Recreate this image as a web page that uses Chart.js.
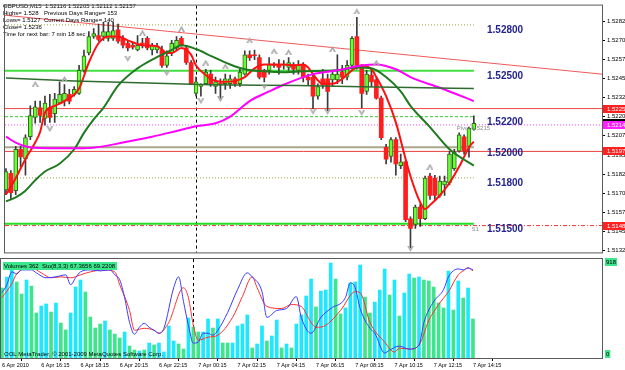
<!DOCTYPE html>
<html>
<head>
<meta charset="utf-8">
<script src="https://cdn.jsdelivr.net/npm/chart.js@4.4.1/dist/chart.umd.min.js"></script>
<style>
  html, body { margin: 0; padding: 0; background: #fff; }
  #wrap { position: relative; width: 625px; height: 370px; overflow: hidden; }
  #main { position: absolute; left: 0; top: 0; }
  #sub { position: absolute; left: 0; top: 258px; }
</style>
</head>
<body>
<div id="wrap">
  <canvas id="main" width="625" height="258"></canvas>
  <canvas id="sub" width="625" height="112"></canvas>
</div>
<script>
// GBPUSD M15, one bar per index, 6 Apr 14:15 .. 7 Apr 14:15
const candleOpen = [
  1.51722, 1.51829, 1.51716, 1.51987, 1.51924, 1.52069, 1.52195, 1.52258, 1.52189, 1.52258,
  1.52220, 1.52289, 1.52302, 1.52346, 1.52346, 1.52352, 1.52503, 1.52617, 1.52724, 1.52730,
  1.52724, 1.52712, 1.52712, 1.52768, 1.52712, 1.52680, 1.52667, 1.52636, 1.52680, 1.52712,
  1.52636, 1.52636, 1.52636, 1.52535, 1.52617, 1.52649, 1.52712, 1.52649, 1.52554, 1.52352,
  1.52397, 1.52415, 1.52478, 1.52397, 1.52415, 1.52415, 1.52415, 1.52447, 1.52415, 1.52478,
  1.52604, 1.52604, 1.52586, 1.52503, 1.52503, 1.52541, 1.52541, 1.52535, 1.52522, 1.52541,
  1.52503, 1.52541, 1.52459, 1.52459, 1.52334, 1.52447, 1.52447, 1.52441, 1.52441, 1.52491,
  1.52459, 1.52535, 1.52724, 1.52535, 1.52365, 1.52472, 1.52441, 1.52321, 1.52000, 1.51941,
  1.52050, 1.51880, 1.51905, 1.51533, 1.51496, 1.51609, 1.51533, 1.51811, 1.51798, 1.51685,
  1.51754, 1.51767, 1.51861, 1.51974, 1.52069, 1.52006, 1.52116
];
const candleHigh = [
  1.51861, 1.51848, 1.52006, 1.52006, 1.52082, 1.52271, 1.52302, 1.52302, 1.52334, 1.52346,
  1.52352, 1.52428, 1.52409, 1.52378, 1.52397, 1.52535, 1.52636, 1.52756, 1.52775, 1.52806,
  1.52819, 1.52819, 1.52819, 1.52806, 1.52730, 1.52693, 1.52680, 1.52730, 1.52712, 1.52724,
  1.52680, 1.52680, 1.52661, 1.52630, 1.52699, 1.52724, 1.52724, 1.52667, 1.52567, 1.52459,
  1.52415, 1.52510, 1.52503, 1.52459, 1.52447, 1.52478, 1.52472, 1.52459, 1.52510, 1.52630,
  1.52630, 1.52636, 1.52604, 1.52510, 1.52586, 1.52554, 1.52573, 1.52567, 1.52586, 1.52554,
  1.52567, 1.52554, 1.52478, 1.52478, 1.52415, 1.52510, 1.52478, 1.52503, 1.52604, 1.52535,
  1.52567, 1.52724, 1.52850, 1.52541, 1.52503, 1.52510, 1.52459, 1.52334, 1.52019, 1.52063,
  1.52063, 1.51955, 1.51910, 1.51546, 1.51622, 1.51628, 1.51811, 1.51829, 1.51817, 1.51811,
  1.51811, 1.51974, 1.51987, 1.52094, 1.52082, 1.52132, 1.52205
];
const candleLow = [
  1.51691, 1.51659, 1.51691, 1.51874, 1.51817, 1.52050, 1.52157, 1.52163, 1.52145, 1.52163,
  1.52163, 1.52283, 1.52271, 1.52283, 1.52334, 1.52346, 1.52491, 1.52604, 1.52712, 1.52693,
  1.52699, 1.52693, 1.52699, 1.52680, 1.52649, 1.52630, 1.52642, 1.52630, 1.52649, 1.52636,
  1.52604, 1.52617, 1.52522, 1.52522, 1.52598, 1.52636, 1.52661, 1.52541, 1.52409, 1.52334,
  1.52334, 1.52409, 1.52397, 1.52352, 1.52321, 1.52378, 1.52384, 1.52397, 1.52397, 1.52472,
  1.52567, 1.52573, 1.52447, 1.52428, 1.52478, 1.52522, 1.52478, 1.52510, 1.52503, 1.52478,
  1.52478, 1.52428, 1.52409, 1.52252, 1.52315, 1.52384, 1.52239, 1.52397, 1.52415, 1.52415,
  1.52441, 1.52510, 1.52510, 1.52258, 1.52346, 1.52397, 1.52315, 1.52050, 1.51891, 1.51903,
  1.51817, 1.51861, 1.51514, 1.51344, 1.51470, 1.51483, 1.51527, 1.51659, 1.51659, 1.51672,
  1.51685, 1.51754, 1.51848, 1.51968, 1.51955, 1.51935, 1.52112
];
const candleClose = [
  1.51842, 1.51703, 1.51987, 1.51937, 1.52063, 1.52208, 1.52264, 1.52208, 1.52289, 1.52195,
  1.52315, 1.52346, 1.52352, 1.52302, 1.52378, 1.52503, 1.52598, 1.52724, 1.52743, 1.52705,
  1.52756, 1.52756, 1.52762, 1.52693, 1.52667, 1.52649, 1.52655, 1.52667, 1.52674, 1.52649,
  1.52667, 1.52661, 1.52535, 1.52598, 1.52680, 1.52699, 1.52667, 1.52554, 1.52415, 1.52428,
  1.52409, 1.52491, 1.52415, 1.52428, 1.52412, 1.52447, 1.52447, 1.52415, 1.52491, 1.52604,
  1.52586, 1.52598, 1.52459, 1.52459, 1.52541, 1.52535, 1.52522, 1.52541, 1.52554, 1.52510,
  1.52535, 1.52459, 1.52441, 1.52334, 1.52397, 1.52409, 1.52365, 1.52478, 1.52478, 1.52459,
  1.52535, 1.52712, 1.52535, 1.52352, 1.52478, 1.52428, 1.52321, 1.52063, 1.51922, 1.52050,
  1.51891, 1.51905, 1.51527, 1.51470, 1.51609, 1.51533, 1.51798, 1.51685, 1.51685, 1.51779,
  1.51779, 1.51955, 1.51968, 1.52082, 1.51974, 1.52126, 1.52157
];

// moving averages, read at selected bars
const maFastIdx = [0,2,4,6,7,8,10,12,15,17,19,21,23,25,28,31,33,34,36,38,39,41,42,44,47,49,51,53,57,59,61,62,63,65,67,69,71,73,75,76,78,80,82,83,85,86,87,89,91,93,94,95,96];
const maFast = [1.51691,1.51798,1.51924,1.52031,1.52100,1.52226,1.52271,1.52302,1.52384,1.52554,
  1.52680,1.52724,1.52724,1.52699,1.52667,1.52661,1.52617,1.52617,1.52649,1.52604,
  1.52535,1.52472,1.52447,1.52428,1.52434,1.52459,1.52516,1.52541,1.52541,1.52535,
  1.52541,1.52522,1.52478,1.52415,1.52415,1.52447,1.52503,1.52535,1.52510,1.52459,
  1.52334,1.52163,1.51924,1.51811,1.51640,1.51596,1.51622,1.51685,1.51767,1.51874,
  1.51937,1.52000,1.52037];
const maMidIdx = [0,2,4,6,8,11,14,16,18,20,23,27,30,34,36,39,42,46,49,53,57,61,68,72,75,78,81,83,87,91,96];
const maMid = [1.51647,1.51672,1.51716,1.51785,1.51842,1.51892,1.51987,1.52094,1.52182,1.52258,
  1.52403,1.52516,1.52573,1.52636,1.52667,1.52642,1.52598,1.52541,1.52510,1.52497,
  1.52491,1.52497,1.52503,1.52522,1.52516,1.52459,1.52365,1.52271,1.52132,1.51987,1.51880];
const maSlowIdx = [0,2,5,9,16,20,24,30,35,39,43,46,50,54,57,63,68,73,76,80,83,90,96];
const maSlow = [1.52069,1.52031,1.52000,1.51994,1.51994,1.52006,1.52031,1.52069,1.52107,1.52138,
  1.52157,1.52201,1.52302,1.52365,1.52409,1.52478,1.52503,1.52535,1.52541,1.52510,
  1.52459,1.52378,1.52302];
const maLongIdx = [0,14,42,60,83,96];
const maLong = [1.52453,1.52434,1.52409,1.52403,1.52390,1.52384];

// fractal arrows
const fracUpIdx = [6,12,28,36,41,45,50,55,58,67,72,76,87];
const fracUpPrice = [1.52415,1.52447,1.52749,1.52775,1.52554,1.52529,1.52699,1.52630,1.52623,1.52642,1.52888,1.52554,1.51874];
const fracDnIdx = [9,25,33,40,44,53,63,66,73,83];
const fracDnPrice = [1.52119,1.52579,1.52485,1.52302,1.52315,1.52397,1.52233,1.52233,1.52226,1.51338];

// levels and lines
const roundLevels = [1.52800, 1.52500, 1.52200, 1.52000, 1.51800, 1.51500];
const upperLine = 1.52253, pivotLine = 1.52146, middleLine = 1.51973, s1Line = 1.51488;
const lastBid = 1.52157;
const trendIdx = [-0.2, 122.3];
const trendPrice = [1.52863, 1.52478];
const daySeparator = 39;

// axis ticks
const priceTicks = [1.52825, 1.52700, 1.52575, 1.52450, 1.52325, 1.52200, 1.52075, 1.51950, 1.51825, 1.51700, 1.51575, 1.51450, 1.51325];
const timeTickIdx = [0, 8, 16, 24, 32, 40, 48, 56, 64, 72, 80, 88, 96];
const timeTickLabels = ['6 Apr 2010', '6 Apr 16:15', '6 Apr 18:15', '6 Apr 20:15', '6 Apr 22:15', '7 Apr 00:15',
  '7 Apr 02:15', '7 Apr 04:15', '7 Apr 06:15', '7 Apr 08:15', '7 Apr 10:15', '7 Apr 12:15', '7 Apr 14:15'];

// volumes (1 = cyan bar, 0 = green bar) and stochastic
const volumes = [649,751,816,705,593,723,667,417,482,501,
  426,510,324,260,417,658,723,612,380,278,
  315,343,260,222,185,241,111,74,65,74,
  139,121,139,56,297,158,130,83,371,287,
  241,241,362,278,362,139,139,139,297,315,
  399,93,130,297,158,204,352,93,130,93,
  315,399,575,732,473,621,630,881,732,408,
  464,695,705,862,565,417,519,630,825,584,
  723,389,603,779,742,751,723,714,658,510,
  464,806,445,714,556,649,362];
const volCyan = [0,1,1,0,0,1,0,0,1,1, 0,1,0,0,1,1,1,0,0,0, 0,1,0,0,0,1,0,0,1,0, 1,0,1,1,1,1,0,0,1,0,
  0,1,1,0,1,0,0,1,1,1, 1,0,1,1,0,1,1,0,1,0, 1,1,1,1,0,1,1,1,0,0, 1,1,1,1,0,0,1,1,1,0,
  1,0,1,1,0,1,0,0,0,0, 0,1,0,1,0,1,0];
const stochMainIdx = [0,1,2,3,4,6,7,9,11,13,14,15,16,18,20,22,23,24,25,26,27,28,29,30,31,32,33,35,36,37,38,39,40,41,42,43,44,46,48,50,51,53,54,56,58,60,61,63,65,67,70,71,72,73,75,76,78,79,81,83,85,86,88,90,91,93,94,95,96];
const stochMain = [66,74,87,85,89,89,86,81,82,84,74,81,87,89,88,89,84,79,61,36,24,31,35,31,28,25,30,71,82,57,33,15,16,25,25,23,28,46,69,86,82,67,41,48,50,62,41,25,41,50,61,76,71,50,30,25,5,8,12,9,13,36,57,69,82,90,89,91,89];
const stochSigIdx = [0,2,3,6,8,10,12,14,16,18,21,23,24,26,27,29,31,32,34,37,38,39,40,42,44,47,49,51,52,54,57,59,61,63,64,66,69,72,73,75,78,80,81,83,85,87,89,91,93,94,95,96];
const stochSig = [61,75,85,91,86,81,82,81,84,87,89,87,74,48,28,30,28,25,36,71,61,33,18,21,23,41,62,82,71,52,50,54,52,36,31,33,48,67,66,36,16,6,10,9,13,38,54,67,84,88,91,88];

Chart.defaults.font.family = 'Liberation Sans';
Chart.defaults.animation = false;

const X_MIN = -0.2, X_MAX = 122.3;
const lastIdx = candleOpen.length - 1;
const pts = (xs, ys) => xs.map((x, k) => ({ x: x, y: ys[k] }));
const flat = (p, x1) => [{ x: X_MIN, y: p }, { x: x1, y: p }];

function chevron(up) {
  const c = document.createElement('canvas');
  c.width = 7; c.height = 6;
  const g = c.getContext('2d');
  g.fillStyle = '#a8a8a8';
  g.beginPath();
  if (up) { g.moveTo(0, 6); g.lineTo(3.5, 0); g.lineTo(7, 6); g.lineTo(5, 6); g.lineTo(3.5, 3); g.lineTo(2, 6); }
  else { g.moveTo(0, 0); g.lineTo(3.5, 6); g.lineTo(7, 0); g.lineTo(5, 0); g.lineTo(3.5, 3); g.lineTo(2, 0); }
  g.closePath();
  g.fill();
  return c;
}

const wicks = [], upBodies = [], downBodies = [];
candleOpen.forEach((o, i) => {
  wicks.push({ x: i, y: [candleLow[i], candleHigh[i]] });
  const body = { x: i, y: [o, candleClose[i]] };
  if (candleClose[i] >= o) upBodies.push(body); else downBodies.push(body);
});

function levelLine(data, color, width, dash) {
  return { type: 'line', data: data, borderColor: color, borderWidth: width, borderDash: dash || [],
    pointRadius: 0, order: 20 };
}
function maLine(data, color, width) {
  return { type: 'line', data: data, borderColor: color, borderWidth: width, pointRadius: 0,
    cubicInterpolationMode: 'monotone', order: 3 };
}

const levelLabelPad = 5.5;
const mainDecor = {
  id: 'mainDecor',
  beforeDatasetsDraw(chart) {
    const ctx = chart.ctx, ca = chart.chartArea;
    const x = Math.round(chart.scales.x.getPixelForValue(daySeparator)) + 0.5;
    ctx.save();
    ctx.strokeStyle = '#000';
    ctx.setLineDash([3, 3]);
    ctx.beginPath(); ctx.moveTo(x, ca.top); ctx.lineTo(x, ca.bottom); ctx.stroke();
    ctx.restore();
  },
  afterDraw(chart) {
    const ctx = chart.ctx, ca = chart.chartArea, y = chart.scales.y, xs = chart.scales.x;
    ctx.save();
    // header
    ctx.fillStyle = '#000';
    ctx.font = '6px "Liberation Sans"';
    ctx.textBaseline = 'middle';
    ctx.textAlign = 'left';
    ctx.fillText('GBPUSD,M15  1.52116 1.52205 1.52112 1.52157', 3, 6);
    ctx.fillText('Highs= 1.528', 3, 13);
    ctx.fillText('Previous Days Range= 153', 44, 13);
    ctx.fillText('Lows= 1.5127', 3, 20);
    ctx.fillText('Current Days Range= 140', 44, 20);
    ctx.fillText('Close= 1.5236', 3, 27);
    ctx.fillText('Time for next bar: 7 min 18 sec', 3, 34);
    // round level labels
    ctx.fillStyle = '#23238c';
    ctx.font = 'bold 10px "Liberation Sans"';
    roundLevels.forEach(p => ctx.fillText(p.toFixed(5), 487, y.getPixelForValue(p) + levelLabelPad));
    // pivot labels
    ctx.fillStyle = '#8c8c8c';
    ctx.font = '6px "Liberation Sans"';
    ctx.fillText('Pivot 1.5215', xs.getPixelForValue(92.5), y.getPixelForValue(pivotLine) + 3);
    ctx.fillText('S1', xs.getPixelForValue(95.5), y.getPixelForValue(s1Line) + 4);
    // frame
    ctx.strokeStyle = '#5a5a5a';
    ctx.lineWidth = 1;
    ctx.strokeRect(ca.left - 0.5, ca.top - 0.5, ca.width + 1, ca.height + 1);
    // price tags on the axis
    const tags = [[upperLine, '#ff2020', '#fff'], [lastBid, '#000', '#fff'], [pivotLine, '#ff20ff', '#fff'],
      [middleLine, '#ff2020', '#fff'], [s1Line, '#ff2020', '#fff']];
    ctx.font = '6px "Liberation Sans"';
    tags.forEach(([p, bg, fg]) => {
      const py = Math.round(y.getPixelForValue(p));
      ctx.fillStyle = bg;
      ctx.fillRect(ca.right + 1, py - 4, 625 - ca.right, 8);
      ctx.fillStyle = fg;
      ctx.fillText(p.toFixed(5), ca.right + 5, py);
    });
    ctx.restore();
  }
};

new Chart(document.getElementById('main'), {
  type: 'bar',
  data: {
    datasets: [
      levelLine(pts(trendIdx, trendPrice), '#f05a5a', 1),
      levelLine(flat(roundLevels[0], lastIdx), '#a0a040', 1, [1, 2]),
      levelLine(flat(roundLevels[1], lastIdx), '#40e040', 2),
      levelLine(flat(roundLevels[2], lastIdx), '#30cc30', 1, [3, 2]),
      levelLine(flat(roundLevels[3], lastIdx), '#a8a88c', 2),
      levelLine(flat(roundLevels[4], lastIdx), '#a0a040', 1, [1, 2]),
      levelLine(flat(roundLevels[5], lastIdx), '#22dd22', 2),
      levelLine(flat(upperLine, X_MAX), '#f04848', 1),
      levelLine(flat(pivotLine, X_MAX), '#ff44ff', 1, [1, 2]),
      levelLine(flat(middleLine, X_MAX), '#e84040', 1),
      levelLine(flat(s1Line, X_MAX), '#f03030', 1, [4, 2, 1, 2]),
      { type: 'bar', data: wicks, backgroundColor: '#3a3a3a', barThickness: 1, grouped: false, order: 8, minBarLength: 1 },
      { type: 'bar', data: upBodies, backgroundColor: '#66ff33', borderColor: '#2f6a14', borderWidth: 1,
        borderSkipped: false, barThickness: 4, grouped: false, order: 7, minBarLength: 1 },
      { type: 'bar', data: downBodies, backgroundColor: '#ff1e1e', borderColor: '#c00000', borderWidth: 0,
        borderSkipped: false, barThickness: 4, grouped: false, order: 7, minBarLength: 1 },
      maLine(pts(maLongIdx, maLong), '#2e6b2e', 1.5),
      maLine(pts(maSlowIdx, maSlow), '#ff00ff', 2),
      maLine(pts(maMidIdx, maMid), '#1f7a1f', 2),
      maLine(pts(maFastIdx, maFast), '#ff1010', 2),
      { type: 'scatter', data: pts(fracUpIdx, fracUpPrice), pointStyle: chevron(true), order: 1 },
      { type: 'scatter', data: pts(fracDnIdx, fracDnPrice), pointStyle: chevron(false), order: 1 }
    ]
  },
  options: {
    responsive: false,
    devicePixelRatio: 1,
    layout: { padding: { left: 1, top: 1, bottom: 1, right: 0 } },
    plugins: { legend: { display: false }, tooltip: { enabled: false } },
    scales: {
      x: { type: 'linear', min: X_MIN, max: X_MAX, offset: false, display: false },
      y: {
        position: 'right', min: 1.51313, max: 1.52926,
        afterFit: s => { s.width = 23; },
        afterBuildTicks: s => { s.ticks = priceTicks.map(v => ({ value: v })); },
        ticks: { callback: v => v.toFixed(5), font: { size: 6 }, color: '#000', padding: 2, autoSkip: false },
        grid: { drawOnChartArea: false, tickLength: 3, color: '#000' },
        border: { display: false }
      }
    }
  },
  plugins: [mainDecor]
});

const subDecor = {
  id: 'subDecor',
  beforeDatasetsDraw(chart) {
    const ctx = chart.ctx, ca = chart.chartArea;
    const x = Math.round(chart.scales.x.getPixelForValue(daySeparator)) + 0.5;
    ctx.save();
    ctx.strokeStyle = '#000';
    ctx.setLineDash([3, 3]);
    ctx.beginPath(); ctx.moveTo(x, ca.top); ctx.lineTo(x, ca.bottom); ctx.stroke();
    ctx.restore();
  },
  afterDraw(chart) {
    const ctx = chart.ctx, ca = chart.chartArea;
    ctx.save();
    ctx.strokeStyle = '#5a5a5a';
    ctx.lineWidth = 1;
    ctx.strokeRect(ca.left - 0.5, ca.top - 0.5, ca.width + 1, ca.height + 1);
    ctx.font = '6px "Liberation Sans"';
    ctx.textBaseline = 'middle';
    const title = 'Volumes ' + volumes[lastIdx] + '  Sto(8,3,3) 67.3656 69.2208';
    const w = ctx.measureText(title).width;
    ctx.fillStyle = '#3ce68c';
    ctx.fillRect(ca.left + 2, ca.top + 3, w + 3, 8);
    ctx.fillStyle = '#000';
    ctx.fillText(title, ca.left + 3, ca.top + 7);
    ctx.fillText('OOL MetaTrader, \u00a9 2001-2009 MetaQuotes Software Corp.', ca.left + 3, ca.bottom - 4);
    // volume scale marks
    const yv = chart.scales.yv;
    [[yv.max, ca.top + 3], [yv.min, ca.bottom - 4]].forEach(([v, py]) => {
      const t = String(v);
      const tw = ctx.measureText(t).width;
      ctx.fillStyle = '#3ce68c';
      ctx.fillRect(ca.right + 3, py - 4, tw + 2, 8);
      ctx.fillStyle = '#000';
      ctx.fillText(t, ca.right + 4, py);
    });
    ctx.restore();
  }
};

new Chart(document.getElementById('sub'), {
  type: 'bar',
  data: {
    datasets: [
      { type: 'bar', data: volumes.map((v, i) => ({ x: i, y: v })), yAxisID: 'yv',
        backgroundColor: volCyan.map(c => c ? '#1ee8ff' : '#3ce68c'), barThickness: 3, grouped: false, order: 5 },
      { type: 'line', data: pts(stochSigIdx, stochSig), yAxisID: 'ys', borderColor: '#ff3030', borderWidth: 1,
        pointRadius: 0, cubicInterpolationMode: 'monotone', order: 2 },
      { type: 'line', data: pts(stochMainIdx, stochMain), yAxisID: 'ys', borderColor: '#3a3aff', borderWidth: 1,
        pointRadius: 0, cubicInterpolationMode: 'monotone', order: 1 }
    ]
  },
  options: {
    responsive: false,
    devicePixelRatio: 1,
    layout: { padding: { left: 1, top: 1, bottom: 0, right: 0 } },
    plugins: { legend: { display: false }, tooltip: { enabled: false } },
    scales: {
      x: {
        type: 'linear', min: X_MIN, max: X_MAX, offset: false,
        afterFit: s => { s.height = 12; },
        afterBuildTicks: s => { s.ticks = timeTickIdx.map(v => ({ value: v })); },
        ticks: { align: 'start', maxRotation: 0, minRotation: 0, autoSkip: false,
          callback: (v, k) => timeTickLabels[k], font: { size: 5.5 }, color: '#000', padding: 1 },
        grid: { drawOnChartArea: false, tickLength: 3, color: '#000' },
        border: { display: false }
      },
      yv: {
        position: 'right', min: 0, max: 918,
        afterFit: s => { s.width = 23; },
        ticks: { display: false }, grid: { display: false }, border: { display: false }
      },
      ys: { display: false, min: 0, max: 100 }
    }
  },
  plugins: [subDecor]
});
</script>
</body>
</html>
